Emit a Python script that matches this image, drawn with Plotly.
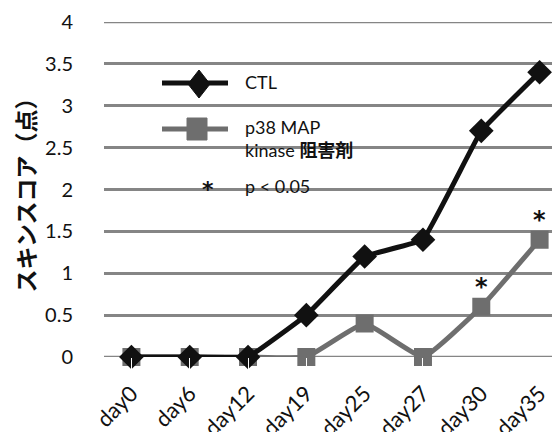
import plotly.graph_objects as go

days = ["day0", "day6", "day12", "day19", "day25", "day27", "day30", "day35"]
ctl = [0, 0, 0, 0.5, 1.2, 1.4, 2.7, 3.4]
p38 = [0, 0, 0, 0, 0.4, 0, 0.6, 1.4]
sig_days = ["day30", "day35"]
y_ticks = [0, 0.5, 1, 1.5, 2, 2.5, 3, 3.5, 4]
y_tick_text = ["0", "0.5", "1", "1.5", "2", "2.5", "3", "3.5", "4"]

W, H = 560, 432
OFF = 8  # page body margin
L, T = 104 - OFF, 22 - OFF
R = OFF
PH = 357 - 22
B = H - T - PH
PW = W - L - R

def px(sx):
    return (sx - OFF - L) / PW

def py(sy):
    return (H - B - (sy - OFF)) / PH

BLACK = "#111111"
GRAY = "#6e6e6e"
GRID = "#858585"
FONT = "Lato, Noto Sans CJK JP, sans-serif"
STAR_FONT = "DejaVu Sans, sans-serif"

fig = go.Figure()
fig.add_trace(go.Scatter(
    x=days, y=p38, mode="lines+markers", name="p38 MAP kinase 阻害剤",
    line=dict(color=GRAY, width=5, shape="spline", smoothing=0.35),
    marker=dict(symbol="square", size=18, color=GRAY),
    cliponaxis=False, showlegend=False))
fig.add_trace(go.Scatter(
    x=days, y=ctl, mode="lines+markers", name="CTL",
    line=dict(color=BLACK, width=5, shape="spline", smoothing=0.2),
    marker=dict(symbol="diamond", size=19, color=BLACK),
    cliponaxis=False, showlegend=False))

annotations = []
for d in sig_days:
    annotations.append(dict(x=d, y=p38[days.index(d)], xref="x", yref="y",
                            text="<b>*</b>", showarrow=False, yshift=20,
                            font=dict(size=24, color=BLACK, family=STAR_FONT)))

shapes = []
# gridlines at the range edges (plotly drops them at the plot border)
for v in (y_ticks[0], y_ticks[-1]):
    shapes.append(dict(type="line", xref="paper", yref="y", x0=0, x1=1, y0=v, y1=v,
                       layer="below", line=dict(color=GRID, width=2.5)))
# legend: CTL
shapes.append(dict(type="line", xref="paper", yref="paper",
                   x0=px(162), x1=px(228), y0=py(83), y1=py(83),
                   line=dict(color=BLACK, width=5)))
cx, cy = 199, 84
shapes.append(dict(type="path", xref="paper", yref="paper",
                   path=f"M {px(cx-11)} {py(cy)} L {px(cx)} {py(cy-14)} L {px(cx+11)} {py(cy)} L {px(cx)} {py(cy+14)} Z",
                   fillcolor=BLACK, line=dict(color=BLACK, width=1)))
# legend: p38
shapes.append(dict(type="line", xref="paper", yref="paper",
                   x0=px(162), x1=px(228), y0=py(129), y1=py(129),
                   line=dict(color=GRAY, width=5)))
shapes.append(dict(type="rect", xref="paper", yref="paper",
                   x0=px(187), x1=px(207), y0=py(140), y1=py(118),
                   fillcolor=GRAY, line=dict(color=GRAY, width=1)))

legend_texts = [("CTL", 82), ("p38 MAP", 127), ("kinase <b>阻害剤</b>", 150), ("p < 0.05", 186)]
for txt, yy in legend_texts:
    annotations.append(dict(x=px(243), y=py(yy), xref="paper", yref="paper",
                            text=txt, showarrow=False, xanchor="left", yanchor="middle",
                            font=dict(size=18, color=BLACK, family=FONT)))
annotations.append(dict(x=px(208), y=py(189), xref="paper", yref="paper",
                        text="<b>*</b>", showarrow=False, xanchor="center", yanchor="middle",
                        font=dict(size=22, color=BLACK, family=STAR_FONT)))

fig.update_layout(
    width=W, height=H,
    margin=dict(l=L, r=R, t=T, b=B, autoexpand=False),
    paper_bgcolor="white", plot_bgcolor="white",
    font=dict(family=FONT, color=BLACK, size=17),
    xaxis=dict(type="category", range=[-0.47, 7.35], tickangle=-45,
               showgrid=False, showline=False, zeroline=False,
               ticks="outside", ticklen=14, tickcolor="white",
               tickfont=dict(size=22, color=BLACK, family=FONT)),
    yaxis=dict(range=[0, 4], tickvals=y_ticks, ticktext=y_tick_text,
               showgrid=True, gridcolor=GRID, gridwidth=2.5,
               zeroline=False, showline=False,
               ticks="outside", ticklen=26, tickcolor="white",
               tickfont=dict(size=20, color=BLACK, family=FONT),
               title=dict(text="<b>スキンスコア（点）</b>", standoff=10,
                          font=dict(size=23, color=BLACK, family="Noto Sans CJK JP"))),
    annotations=annotations, shapes=shapes,
)

fig.write_html("out.html")
